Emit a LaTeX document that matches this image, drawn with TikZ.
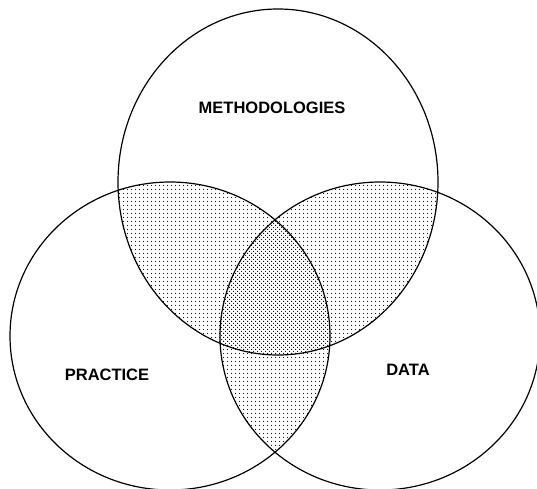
\documentclass[tikz,border=0pt]{standalone}
\usepackage{fontspec}
\setmainfont{Liberation Sans}
\usetikzlibrary{patterns.meta}
\tikzset{
  setlabel/.style={font=\fontsize{16.5}{19}\selectfont\bfseries, inner sep=0pt},
  twoset/.style={pattern={Dots[distance=4pt,radius=0.65pt]}},
  threeset/.style={pattern={Dots[distance=4pt,radius=0.65pt,xshift=2pt,yshift=2pt]}},
}
\newcommand\topset{(278,182) ellipse [x radius=160, y radius=173]}
\newcommand\leftset{(170,336) ellipse [x radius=160, y radius=154]}
\newcommand\rightset{(380,336) ellipse [x radius=160, y radius=154]}
\begin{document}
\begin{tikzpicture}[x=1pt, y=-1pt, line width=1.2pt]
\useasboundingbox (0,0) rectangle (537,488);
\clip (0,0) rectangle (537,488);
\fill[white] (0,0) rectangle (537,488);
\begin{scope} \clip \topset; \fill[twoset] \leftset; \fill[twoset] \rightset; \end{scope}
\begin{scope} \clip \leftset; \fill[twoset] \rightset; \end{scope}
\begin{scope} \clip \topset; \clip \leftset; \fill[threeset] \rightset; \end{scope}
\draw \topset \leftset \rightset;
\node[setlabel] (methods) at (272,107.5) {METHODOLOGIES};
\node[setlabel] (practice) at (107,375) {PRACTICE};
\node[setlabel] (data) at (408,370) {DATA};
\end{tikzpicture}
\end{document}
